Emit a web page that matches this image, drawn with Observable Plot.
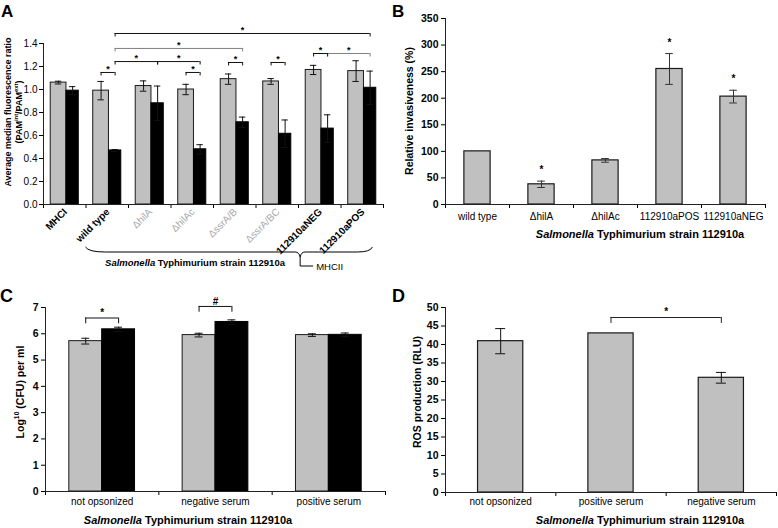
<!DOCTYPE html>
<html><head><meta charset="utf-8">
<script src="https://cdn.jsdelivr.net/npm/d3@7"></script>
<script src="https://cdn.jsdelivr.net/npm/@observablehq/plot@0.6"></script>
<style>
body{margin:0;background:#fff;}
#fig{position:relative;width:778px;height:528px;background:#fff;}
</style></head><body><div id="fig"></div>
<script>
// ---------- Panel A data ----------
const categoriesA = ["MHCI","wild type","ΔhilA","ΔhilAc","ΔssrA/B","ΔssrA/BC","112910aNEG","112910aPOS"];
const faintLabelsA = ["ΔhilA","ΔhilAc","ΔssrA/B","ΔssrA/BC"];
const grayA = [1.06,0.99,1.03,1.00,1.09,1.07,1.17,1.16];
const grayErrA = [0.012,0.08,0.045,0.045,0.045,0.025,0.04,0.09];
const blackA = [0.99,0.47,0.88,0.48,0.715,0.615,0.66,1.015];
const blackErrA = [0.035,0.008,0.15,0.04,0.045,0.12,0.12,0.145];
const yTicksA = [0,0.2,0.4,0.6,0.8,1.0,1.2,1.4];
const bracketsA = [
  {from:"wild type", fs:"black", to:"112910aPOS", ts:"black", y:1.487, label:"*", tone:"dark"},
  {from:"wild type", fs:"black", to:"ΔssrA/B", ts:"black", y:1.357, label:"*", tone:"light"},
  {from:"wild type", fs:"black", to:"ΔhilA", ts:"black", y:1.243, label:"*", tone:"dark"},
  {from:"ΔhilA", fs:"black", to:"ΔhilAc", ts:"black", y:1.243, label:"*", tone:"dark"},
  {from:"wild type", fs:"gray", to:"wild type", ts:"black", y:1.148, label:"*", tone:"dark"},
  {from:"ΔhilAc", fs:"gray", to:"ΔhilAc", ts:"black", y:1.148, label:"*", tone:"dark"},
  {from:"ΔssrA/B", fs:"gray", to:"ΔssrA/B", ts:"black", y:1.235, label:"*", tone:"dark"},
  {from:"ΔssrA/BC", fs:"gray", to:"ΔssrA/BC", ts:"black", y:1.235, label:"*", tone:"dark"},
  {from:"112910aNEG", fs:"gray", to:"112910aNEG", ts:"black", y:1.313, label:"*", tone:"dark"},
  {from:"112910aNEG", fs:"black", to:"112910aPOS", ts:"black", y:1.313, label:"*", tone:"light"}
];

// ---------- Panel B data ----------
const categoriesB = ["wild type","ΔhilA","ΔhilAc","112910aPOS","112910aNEG"];
const valuesB = [100,38,83,255,203];
const errB = [0,6,3.5,29,12];
const starsB = ["","*","","*","*"];
const yTicksB = [0,50,100,150,200,250,300,350];

// ---------- Panel C data ----------
const categoriesC = ["not opsonized","negative serum","positive serum"];
const grayC = [5.72,5.95,5.95];
const grayErrC = [0.11,0.07,0.05];
const blackC = [6.17,6.45,5.96];
const blackErrC = [0.08,0.08,0.07];
const yTicksC = [0,1,2,3,4,5,6,7];
const bracketsC = [
  {from:"not opsonized", fs:"gray", to:"not opsonized", ts:"black", y:6.6, label:"*"},
  {from:"negative serum", fs:"gray", to:"negative serum", ts:"black", y:7.04, label:"#"}
];

// ---------- Panel D data ----------
const categoriesD = ["not opsonized","positive serum","negative serum"];
const valuesD = [40.9,43,31];
const errD = [3.4,0,1.45];
const yTicksD = [0,5,10,15,20,25,30,35,40,45,50];
const bracketsD = [
  {from:"positive serum", to:"negative serum", y:47.3, label:"*"}
];

const caption = [{t:"Salmonella", i:true},{t:" Typhimurium strain 112910a"}];

// ---------- helpers ----------
const FONT = '"Liberation Sans", Arial, Helvetica, sans-serif';
const GRAY = "#c0c0c0", OUT = "#1a1a1a";
const fig = document.getElementById("fig");
function place(svg, left, top) {
  svg.style.position = "absolute"; svg.style.left = left + "px"; svg.style.top = top + "px";
  svg.style.overflow = "visible";
  fig.append(svg);
}
function svgText(svg, x, y, segs, o = {}) {
  const size = o.size || 10;
  const t = d3.select(svg).append("text")
    .attr("transform", `translate(${x},${y}) rotate(${o.rotate || 0})`)
    .attr("text-anchor", o.anchor || "middle")
    .attr("dominant-baseline", o.baseline || "central")
    .attr("font-family", FONT).attr("font-size", size)
    .attr("font-weight", o.weight || "bold").attr("fill", o.fill || "#000");
  segs.forEach(s => {
    const ts = t.append("tspan").text(s.t);
    if (s.i) ts.attr("font-style", "italic");
    if (s.sup) ts.attr("font-size", size * 0.65).attr("dy", -size * 0.35);
    if (s.unsup) ts.attr("dy", size * 0.35);
  });
  return t;
}
function bounds(n) { return d3.range(n + 1).map(i => i - 0.5); }
function errorMarks(rows, xk, vk, ek, half, stroke) {
  const f = rows.filter(d => d[ek] > 0);
  return [
    Plot.ruleX(f, {x: xk, y1: d => d[vk] - d[ek], y2: d => d[vk] + d[ek], stroke, strokeWidth: 1}),
    Plot.ruleY(f, {y: d => d[vk] + d[ek], x1: d => d[xk] - half, x2: d => d[xk] + half, stroke, strokeWidth: 1}),
    Plot.ruleY(f, {y: d => d[vk] - d[ek], x1: d => d[xk] - half, x2: d => d[xk] + half, stroke, strokeWidth: 1})
  ];
}
function bracketMarks(list, drop, starSize, starDy) {
  return [
    Plot.ruleY(list, {y: "y", x1: "x1", x2: "x2", stroke: "stroke", strokeWidth: 1}),
    Plot.ruleX(list, {x: "x1", y1: "y", y2: d => d.y - drop, stroke: "stroke", strokeWidth: 1}),
    Plot.ruleX(list, {x: "x2", y1: "y", y2: d => d.y - drop, stroke: "stroke", strokeWidth: 1}),
    Plot.text(list, {x: d => (d.x1 + d.x2) / 2, y: "y", text: "label", dy: starDy, fontSize: starSize, fontWeight: "bold", fill: "black"})
  ];
}

// ---------- Panel A ----------
{
  const off = {gray: -0.145, black: 0.185};
  const rows = categoriesA.map((c, i) => ({c, i, g: grayA[i], ge: grayErrA[i], b: blackA[i], be: blackErrA[i],
    xg: i + off.gray, xb: i + off.black}));
  const idx = c => categoriesA.indexOf(c);
  const br = bracketsA.map(d => ({...d, x1: idx(d.from) + off[d.fs], x2: idx(d.to) + off[d.ts],
    stroke: d.tone === "light" ? "#808080" : "#111"}));
  const plot = Plot.plot({
    width: 390, height: 270, marginLeft: 43, marginRight: 7, marginTop: 43, marginBottom: 66,
    style: {fontFamily: FONT, fontSize: "10px", background: "transparent", color: "#000", overflow: "visible"},
    x: {domain: [-0.5, categoriesA.length - 0.5], axis: null},
    y: {domain: [0, 1.4], axis: null},
    color: {type: "identity"},
    marks: [
      Plot.axisY(yTicksA, {tickFormat: d3.format(".1f"), tickSize: 4, tickPadding: 2, label: null, fontSize: 10}),
      Plot.axisX(bounds(categoriesA.length), {tickFormat: () => "", tickSize: 4, label: null}),
      Plot.rectY(rows, {x1: d => d.i - 0.33, x2: d => d.i + 0.04, y: "g", fill: GRAY, stroke: OUT, strokeWidth: 1}),
      Plot.rectY(rows, {x1: d => d.i + 0.04, x2: d => d.i + 0.33, y: "b", fill: "#000", stroke: "#000", strokeWidth: 1}),
      ...errorMarks(rows, "xg", "g", "ge", 0.075, "#111"),
      ...errorMarks(rows, "xb", "b", "be", 0.075, "#111"),
      Plot.ruleY([0], {stroke: "#222"}),
      Plot.ruleX([-0.5], {stroke: "#222"}),
      ...bracketMarks(br, 0.03, 9, -3),
      Plot.text(rows.filter(d => !faintLabelsA.includes(d.c)), {x: "i", text: "c", frameAnchor: "bottom", rotate: -45,
        textAnchor: "end", dx: 3, dy: 8, fontWeight: "bold", fontSize: 10, fill: "#000"}),
      Plot.text(rows.filter(d => faintLabelsA.includes(d.c)), {x: "i", text: "c", frameAnchor: "bottom", rotate: -45,
        textAnchor: "end", dx: 3, dy: 8, fontWeight: "normal", fontSize: 10, fill: "#a8a8a8"})
    ]
  });
  const sx = plot.scale("x").apply, sy = plot.scale("y").apply;
  const base = sy(0);
  const L = sx(0.5), R = sx(7.25), T = sx(5.55), yb = base + 48;
  d3.select(plot).append("path")
    .attr("d", `M${L},${yb - 5} Q${L + 3},${yb} ${L + 20},${yb} H${T - 5} Q${T - 1},${yb} ${T},${yb + 5} Q${T + 1},${yb} ${T + 5},${yb} H${R - 15} Q${R - 2},${yb} ${R},${yb - 5}`)
    .attr("fill", "none").attr("stroke", "#000").attr("stroke-width", 1);
  d3.select(plot).append("path")
    .attr("d", `M${T},${yb + 5} V${yb + 14} H${T + 13}`)
    .attr("fill", "none").attr("stroke", "#000").attr("stroke-width", 1);
  svgText(plot, T + 16, yb + 14, [{t: "MHCII"}], {size: 9.5, anchor: "start", weight: "normal"});
  svgText(plot, 195, yb + 10, caption, {size: 9.5});
  svgText(plot, 8, 112, [{t: "Average median fluorescence ratio"}], {size: 9, rotate: -90});
  svgText(plot, 19, 112, [{t: "(PAM"}, {t: "int", sup: true}, {t: "/PAM", unsup: true}, {t: "ext", sup: true}, {t: ")", unsup: true}], {size: 9, rotate: -90});
  svgText(plot, 1, 17, [{t: "A"}], {size: 17, anchor: "start", baseline: "alphabetic"});
  place(plot, 0, 0);
}

// ---------- Panel B ----------
{
  const rows = categoriesB.map((c, i) => ({c, i, v: valuesB[i], e: errB[i], s: starsB[i]}));
  const plot = Plot.plot({
    width: 388, height: 245, marginLeft: 55, marginRight: 13, marginTop: 18, marginBottom: 41,
    style: {fontFamily: FONT, fontSize: "10px", background: "transparent", color: "#000", overflow: "visible"},
    x: {domain: [-0.5, categoriesB.length - 0.5], axis: null},
    y: {domain: [0, 350], axis: null},
    marks: [
      Plot.axisY(yTicksB, {tickSize: 4, tickPadding: 3, label: null, fontSize: 10.5, fontWeight: "bold"}),
      Plot.axisX(bounds(categoriesB.length), {tickFormat: () => "", tickSize: 4, label: null}),
      Plot.rectY(rows, {x1: d => d.i - 0.205, x2: d => d.i + 0.205, y: "v", fill: GRAY, stroke: OUT, strokeWidth: 1.2}),
      ...errorMarks(rows, "i", "v", "e", 0.06, "#333"),
      Plot.text(rows.filter(d => d.s), {x: "i", y: d => d.v + d.e, text: "s", dy: -11, fontSize: 10, fontWeight: "bold"}),
      Plot.ruleY([0], {stroke: "#222"}),
      Plot.ruleX([-0.5], {stroke: "#222"}),
      Plot.text(rows, {x: "i", text: "c", frameAnchor: "bottom", dy: 15, fontSize: 10, fill: "#000"})
    ]
  });
  svgText(plot, 250, 234, caption, {size: 11});
  svgText(plot, 19, 111, [{t: "Relative invasiveness (%)"}], {size: 10.5, rotate: -90});
  svgText(plot, 2, 17, [{t: "B"}], {size: 17, anchor: "start", baseline: "alphabetic"});
  place(plot, 390, 0);
}

// ---------- Panel C ----------
{
  const off = {gray: -0.145, black: 0.145};
  const rows = categoriesC.map((c, i) => ({c, i, g: grayC[i], ge: grayErrC[i], b: blackC[i], be: blackErrC[i],
    xg: i + off.gray, xb: i + off.black}));
  const idx = c => categoriesC.indexOf(c);
  const br = bracketsC.map(d => ({...d, x1: idx(d.from) + off[d.fs], x2: idx(d.to) + off[d.ts], stroke: "#111"}));
  const plot = Plot.plot({
    width: 390, height: 248, marginLeft: 45, marginRight: 5, marginTop: 27, marginBottom: 37,
    style: {fontFamily: FONT, fontSize: "10px", background: "transparent", color: "#000", overflow: "visible"},
    x: {domain: [-0.5, categoriesC.length - 0.5], axis: null},
    y: {domain: [0, 7], axis: null},
    color: {type: "identity"},
    marks: [
      Plot.axisY(yTicksC, {tickSize: 4, tickPadding: 3, label: null, fontSize: 10.5, fontWeight: "bold"}),
      Plot.axisX(bounds(categoriesC.length), {tickFormat: () => "", tickSize: 4, label: null}),
      Plot.rectY(rows, {x1: d => d.i - 0.29, x2: d => d.i, y: "g", fill: GRAY, stroke: OUT, strokeWidth: 1}),
      Plot.rectY(rows, {x1: d => d.i, x2: d => d.i + 0.29, y: "b", fill: "#000", stroke: "#000", strokeWidth: 1}),
      ...errorMarks(rows, "xg", "g", "ge", 0.035, "#111"),
      ...errorMarks(rows, "xb", "b", "be", 0.035, "#111"),
      Plot.ruleY([0], {stroke: "#222"}),
      Plot.ruleX([-0.5], {stroke: "#222"}),
      ...bracketMarks(br, 0.22, 10, -5),
      Plot.text(rows, {x: "i", text: "c", frameAnchor: "bottom", dy: 13, fontSize: 10, fill: "#000"})
    ]
  });
  svgText(plot, 188, 240, caption, {size: 11});
  svgText(plot, 20, 112, [{t: "Log"}, {t: "10", sup: true}, {t: " (CFU) per ml", unsup: true}], {size: 10.5, rotate: -90});
  svgText(plot, 0, 22, [{t: "C"}], {size: 18, anchor: "start", baseline: "alphabetic"});
  place(plot, 0, 280);
}

// ---------- Panel D ----------
{
  const rows = categoriesD.map((c, i) => ({c, i, v: valuesD[i], e: errD[i]}));
  const idx = c => categoriesD.indexOf(c);
  const br = bracketsD.map(d => ({...d, x1: idx(d.from), x2: idx(d.to), stroke: "#222"}));
  const plot = Plot.plot({
    width: 388, height: 248, marginLeft: 55, marginRight: 2, marginTop: 27, marginBottom: 36,
    style: {fontFamily: FONT, fontSize: "10px", background: "transparent", color: "#000", overflow: "visible"},
    x: {domain: [-0.5, categoriesD.length - 0.5], axis: null},
    y: {domain: [0, 50], axis: null},
    color: {type: "identity"},
    marks: [
      Plot.axisY(yTicksD, {tickSize: 4, tickPadding: 3, label: null, fontSize: 10.5, fontWeight: "bold"}),
      Plot.axisX(bounds(categoriesD.length), {tickFormat: () => "", tickSize: 4, label: null}),
      Plot.rectY(rows, {x1: d => d.i - 0.205, x2: d => d.i + 0.205, y: "v", fill: GRAY, stroke: OUT, strokeWidth: 1.2}),
      ...errorMarks(rows, "i", "v", "e", 0.045, "#111"),
      Plot.ruleY([0], {stroke: "#222"}),
      Plot.ruleX([-0.5], {stroke: "#222"}),
      ...bracketMarks(br, 1.6, 10, -6),
      Plot.text(rows, {x: "i", text: "c", frameAnchor: "bottom", dy: 12, fontSize: 10, fill: "#000"})
    ]
  });
  svgText(plot, 250, 240, caption, {size: 11});
  svgText(plot, 27, 112, [{t: "ROS production (RLU)"}], {size: 10.5, rotate: -90});
  svgText(plot, 2, 22, [{t: "D"}], {size: 18, anchor: "start", baseline: "alphabetic"});
  place(plot, 390, 280);
}
</script></body></html>
